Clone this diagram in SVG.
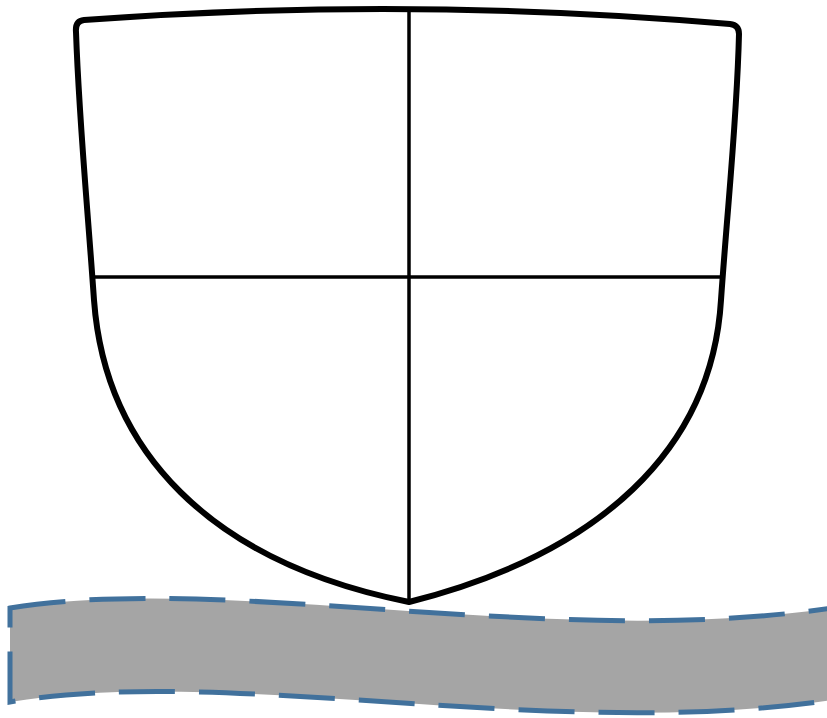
<svg xmlns="http://www.w3.org/2000/svg" width="827" height="718" viewBox="0 0 827 718">
<style>
.outline{fill:#fff;stroke:#000;stroke-width:6;stroke-linejoin:round}
.div{fill:none;stroke:#000;stroke-width:3.5}
.band{fill:#a5a5a5;stroke:#41719c;stroke-width:5;stroke-dasharray:56 24}
</style>
<rect width="827" height="718" fill="#fff"/>
<g id="banner">
<path class="band" d="M 10 608 C 230 572 560 652 845 606 L 845 698 C 560 744 230 664 10 702 Z"/>
</g>
<g id="shield">
<path class="outline" d="M 84 20 Q 408 -4 730 24 Q 739 25 739 34 C 737 120 728 200 721 300 C 712 450 599 554 409 602 C 209 562 105 450 94 300 C 87 200 79 120 76 32 Q 75 21 84 20 Z"/>
<line class="div" x1="409" y1="8" x2="409" y2="602"/>
<line class="div" x1="93" y1="277" x2="720" y2="277"/>
</g>
</svg>
